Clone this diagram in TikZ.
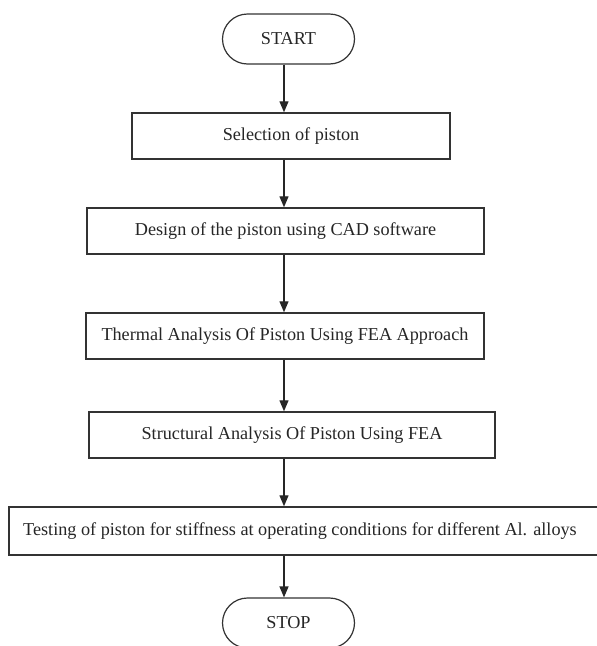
\documentclass[tikz,border=0pt]{standalone}
\usepackage{fontspec}
\setmainfont{Liberation Serif}
\usetikzlibrary{arrows.meta}
\begin{document}
\begin{tikzpicture}[x=1pt,y=-1pt,
  every node/.style={font=\fontsize{18.2}{21}\selectfont, text=black!85},
  proc/.style={draw=black!80, line width=1.4pt, rectangle, inner sep=0pt, fill=white},
  term/.style={draw=black!80, line width=1.2pt, rectangle, rounded corners=25pt, inner sep=0pt, minimum width=132pt, minimum height=50pt},
  flow/.style={draw=black!85, line width=1.3pt, -{Triangle[length=11pt,width=9pt]}}]
\useasboundingbox (0,0) rectangle (597,646);
\node[term] (start) at (288.5,39) {START};
\node[proc, minimum width=318pt, minimum height=46pt] (b1) at (291,136) {Selection of piston};
\node[proc, minimum width=397pt, minimum height=46pt] (b2) at (285.5,231) {Design of the piston using CAD software};
\node[proc, minimum width=398pt, minimum height=46pt] (b3) at (285,336) {Thermal Analysis Of Piston Using FEA Approach};
\node[proc, minimum width=406pt, minimum height=46pt] (b4) at (292,435) {Structural Analysis Of Piston Using FEA};
\node[proc, minimum width=590pt, minimum height=48pt] (b5) at (304,531) {\hspace*{-8pt}Testing of piston for stiffness at operating conditions for different Al. alloys};
\node[term] (stop) at (288.5,623) {STOP};
\coordinate (ax) at (284,0);
\draw[flow] (start.south -| ax) -- (b1.north -| ax);
\draw[flow] (b1.south -| ax) -- (b2.north -| ax);
\draw[flow] (b2.south -| ax) -- (b3.north -| ax);
\draw[flow] (b3.south -| ax) -- (b4.north -| ax);
\draw[flow] (b4.south -| ax) -- (b5.north -| ax);
\draw[flow] (b5.south -| ax) -- (stop.north -| ax);
\end{tikzpicture}
\end{document}
